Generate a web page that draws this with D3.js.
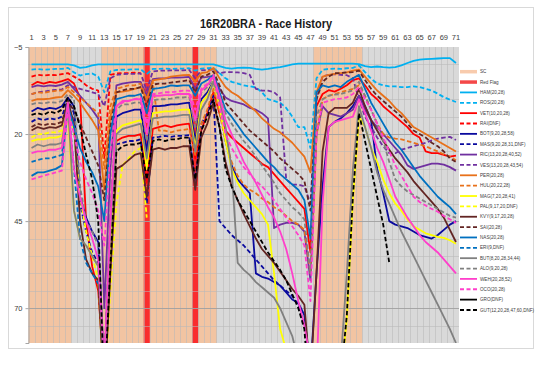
<!DOCTYPE html>
<html>
<head>
<meta charset="utf-8">
<script src="https://cdn.jsdelivr.net/npm/d3@7"></script>
<style>
body { margin: 0; background: #fff; }
text { font-family: "Liberation Sans", Arial, sans-serif; }
</style>
</head>
<body>
<div id="chart"></div>
<script>
// laps are categories 1..71, the y axis is the gap (s), positive downwards
const laps = d3.range(1, 72);
const lapLabels = laps.filter((l) => l % 2 === 1);
const yTicks = [-5, 20, 45, 70];

// safety car and red flag laps (drawn as full height columns)
const scLaps = [1, 2, 3, 4, 5, 6, 7, 13, 14, 15, 16, 17, 18, 19, 20, 21, 22, 23, 24, 25,
    26, 27, 28, 29, 30, 31, 48, 49, 50, 51, 52, 53, 54, 55];
const redFlagLaps = [20, 28];

const HAM = [0, 0, 0, 0, 0, 0, 0, 0.3, 1, 0.8,
    0.3, 0, 0, 0, 0, 0, 0, 0, 0, 0,
    0, 0, 0, 0, 0, 0, 0, 0, 0, 0,
    0, 0.5, 1, 1.2, 1, 0.9, 1, 1.3, 1.5, 1.3,
    1, 0.8, 0.4, 0, -0.2, -0.2, -0.2, -0.2, -0.2, -0.2,
    -0.2, -0.2, -0.2, -0.2, -0.1, 0.5, 0.8, 0.6, 0.8, 0.9,
    0.8, 0.3, -0.4, -1, -1.4, -1.5, -1.6, -1.7, -1.8, -1.8,
    -0.4];
const ROS = [1.5, 1.3, 1.5, 1.4, 1.3, 1.3, 1.0, 2.3, 3.2, 2.8,
    2.6, 3.5, 8, 2, 1.6, 1.5, 1.5, 1.4, 1.4, 2.8,
    1.3, 1.3, 1.2, 1.3, 1.2, 1.2, 1.1, 1.8, 1.2, 1.1,
    1, 2.5, 4, 5, 5.5, 6, 6.3, 6.6, 8, 10,
    10.5, 11, 12.5, 15, 18, 18, 24, 4, 1.5, 1.3,
    1.2, 1.3, 1.1, 1, 0.3, 2.2, 4.1, 5.5, 6, 6.3,
    6.3, 6.5, 6.5, 6.3, 6.5, 7, 7.5, 8.4, 9.4, 10.1,
    10.8];
const VET = [6, 5, 5.5, 5, 5.3, 4.8, 4.2, 5.5, 9.5, 45,
    58, 65, 90, 50, 22, 21, 20.5, 20.5, 20, 34,
    18.5, 18, 17.5, 18, 17.5, 17.2, 17, 27, 19, 14,
    8, 14, 19, 21, 22.5, 24, 25.5, 27, 28.5, 29.5,
    31.5, 33.5, 35.5, 37.5, 39.5, 41.5, 54, 12, 8.5, 7.4,
    7.8, 7, 6, 4.5, 4, 6, 8.5, 10, 12, 13.5,
    15, 16.5, 18, 20, 21, 25, 25.5, 25.5, 26, 26.5,
    26.2];
const RAI = [3.5, 3, 3.2, 3, 3.1, 2.8, 2.5, 3.5, 4.5, 6,
    7, 7.5, 27, 3, 2.6, 2.5, 2.5, 2.4, 2.5];
const BOT = [13.5, 12.5, 13, 12.5, 12.8, 12, 9.5, 12, 38, 44,
    48, 51, 88, 45, 15, 14, 13.5, 13, 13, 25,
    12, 12, 11.8, 11.5, 11.5, 11.2, 11, 22, 10, 8,
    5, 12, 22, 29, 33, 35, 37, 60, 61, 61.5,
    62.5, 63.5, 65.5, 67.5, 68.5, 72, 88, 60, 35, 18,
    16.5, 15.5, 14, 12, 9, 12, 16, 30, 37, 45,
    46, 46.5, 47, 48, 49, 49.5, 50, 49, 47.5, 46,
    45];
const MAS = [16.5, 15.5, 16, 15.5, 15.8, 15, 10, 14, 40, 48,
    54, 57, 92, 55, 23, 22.5, 22, 22, 21.5, 40,
    21, 20.8, 20.5, 20.8, 20.5, 20.5, 20.3, 35, 17, 14,
    9, 45, 47, 49, 50.5, 52, 54, 56, 58, 60,
    62, 63.5, 65, 66.5, 69, 75];
const RIC = [6.5, 6, 6.3, 6, 6.2, 5.8, 5, 7, 9, 11,
    13, 15.5, 70, 30, 6, 5.5, 5.2, 5, 5, 9,
    4.2, 4, 4, 3.8, 3.8, 3.7, 3.6, 7, 3.8, 3.6,
    3.3, 7, 9.5, 10.5, 11, 11.5, 12.5, 13, 14, 15.5,
    47, 46, 45.5, 45.5, 46, 48, 62, 20, 12, 14,
    14.5, 15, 14, 13, 9, 13, 16, 18, 20, 22,
    24, 26, 29, 30, 29.5, 29, 28.5, 28.5, 28.8, 29.5,
    30.5];
const VES = [8.5, 8, 7.8, 7.5, 7.3, 7.2, 6, 6.5, 7, 7.5,
    8, 8.5, 12, 4, 3, 2.8, 2.7, 2.7, 2.6, 7.5,
    2, 1.8, 1.8, 1.7, 1.7, 1.7, 1.6, 4, 1.7, 1.6,
    1.5, 2.5, 2.2, 2.2, 2.3, 2.5, 3, 7, 7.5, 7.5,
    8, 9.5, 33, 34.5, 34.5, 35, 40, 10, 3.5, 3,
    2.8, 3, 3.1, 4, 10, 15, 18, 21, 23.5, 25.5,
    25.5, 24.5, 24, 23.5, 23, 22.5, 21.8, 21.3, 21, 20.8,
    21.7];
const PER = [10.5, 10, 10, 9.8, 9.5, 9.3, 7.4, 9, 11, 13.5,
    16, 19, 36, 15, 8, 7.8, 7.5, 7, 6.5, 10,
    4.6, 4.3, 4, 3.5, 3.3, 3.1, 3, 5, 2.5, 2.2,
    1, 4, 6.5, 8, 9, 10.5, 12, 13.5, 15.5, 17,
    18.5, 19.5, 21, 22.5, 24.5, 26.5, 31, 8, 3.5, 3,
    2.7, 2.5, 2.3, 1.8, 1.5, 3.5, 5.5, 7.5, 9, 10.5,
    12.5, 14, 16, 18, 19, 20, 21, 22, 23, 24,
    25];
const HUL = [8.5, 8, 8.2, 7.8, 7.6, 7.5, 6.5, 8, 9.5, 11,
    12.5, 14, 30, 12, 7, 6.5, 6, 6, 5.5, 10,
    5, 19, 19, 19.5, 19, 18.8, 18.5, 26, 17, 13,
    7, 14, 22, 28, 32, 34.5, 36, 37, 38.5, 39.5,
    41, 42, 43.5, 45, 46, 47.5, 60, 20, 10, 9,
    8.5, 8, 7.5, 7, 6, 9, 13, 17, 20, 21,
    21.3, 21.5, 22, 22.5, 23, 23.5, 24.3, 25, 25.8, 26.5,
    27.5];
const MAG = [22, 21.5, 21.5, 21, 21, 20.5, 14, 42, 50, 52,
    55, 58, 92, 52, 19, 17.5, 17, 16.5, 16, 30,
    14, 13.8, 13.5, 13.5, 13.2, 13, 13, 24, 11, 9,
    5, 12, 22, 30, 34, 37, 39, 41, 43, 46,
    60, 76, 82, 86, 90, 95, 100, 110, 105, 100,
    96, 91, 73, 39, 15, 18, 24, 28, 33, 37,
    40, 42, 44.5, 46.5, 47.5, 48.5, 49, 49.5, 49.8, 50.5,
    51.5];
const PAL = [21, 20, 20, 19.5, 19.5, 19, 13, 19, 38, 48,
    55, 62, 95, 65, 40, 29, 27, 25, 24, 44];
const KVY = [19, 18, 18.5, 18, 18.2, 17.5, 10.5, 17, 45, 56,
    60, 62, 95, 60, 30, 29, 27.5, 26, 25.5, 38,
    24.5, 24, 24.5, 24, 24, 23.5, 23.5, 36, 21, 17,
    11, 18, 28, 35, 39, 43, 46.5, 50, 53, 55,
    57, 59.5, 62, 64.5, 66.5, 69, 90, 60, 25, 14,
    12.5, 12.5, 12.5, 11, 7, 12, 16, 19, 22, 24.5,
    27, 29, 31, 33.5, 35.5, 37.5, 39.5, 41.5, 44, 47.5,
    51];
const SAI = [18, 17, 17.5, 17, 17.2, 16.5, 11, 13, 17, 21,
    25, 29, 39, 18, 8, 7.5, 7, 7, 6.5, 12,
    5.8, 5.5, 5.5, 5.2, 5, 4.8, 4.5, 8, 3.5, 3,
    2, 6, 11, 13, 15, 17, 19, 20.5, 22, 23.5,
    25, 27, 28.5, 30, 31.5, 33.5, 42, 10, 5, 3.5,
    2.5, 2.5, 2.3, 2.2, 1.8, 4.5, 7, 9, 10.5, 12,
    13.5, 15, 17, 19, 20, 21, 22.5, 23.5, 25, 27,
    28];
const NAS = [32, 31, 31, 30.5, 30, 29, 12, 18, 24, 28,
    31, 35, 45, 20, 10, 9.5, 9, 9, 8.5, 14,
    7, 6.8, 6.5, 6, 6.2, 6, 6, 9, 5.5, 4.5,
    3, 8, 13, 15, 17.5, 20, 22, 24, 26, 28,
    29.5, 31.5, 33, 34.5, 36, 39, 50, 8, 6, 6.5,
    6, 6.5, 5, 4, 3, 7, 11, 14, 17, 20,
    22.5, 24.5, 27, 29.5, 32, 34, 36, 38, 39.5, 41,
    43];
const ERI = [28, 27.5, 27, 27, 26.5, 26, 11, 30, 50, 57,
    60, 63];
const BUT = [24, 23, 23.5, 23, 23, 22.5, 11, 42, 50, 52,
    55, 58, 90, 48, 20, 18.5, 18, 17.5, 17, 27,
    15.5, 15.3, 15, 15, 14.8, 14.5, 14.5, 25, 13, 10,
    5, 10, 18, 30, 57, 59, 60.5, 62.5, 64, 65.5,
    67, 70, 74, 78, 85, 90, 100, 100, 98, 95,
    90, 85, 60, 30, 12, 18, 24, 31, 36, 40,
    44, 48, 51.5, 55, 58.5, 62, 65.5, 69, 72.5, 76,
    80];
const ALO = [11.5, 11, 11.2, 10.8, 11, 10.5, 8.5, 10, 35, 45,
    48, 52, 86, 42, 13, 11.5, 11.5, 11, 11, 22,
    10.3, 10, 10, 9.8, 9.5, 9.5, 9.3, 18, 8, 6.5,
    4, 9, 14, 17, 19.5, 22, 24, 26.5, 29, 31.5,
    34, 37, 39, 41, 42.5, 44.5, 60, 15, 10, 9,
    8.7, 8.5, 8, 7.5, 5, 9, 13, 17, 22, 28,
    33, 35, 36.5, 37.5, 38.5, 39.5, 40.5, 41.5, 42.5, 43.5,
    44];
const WEH = [25.5, 25, 25, 24.5, 24.5, 24, 11, 30, 38, 45,
    50, 56, 86, 45, 12, 10.5, 10.5, 10, 10, 20,
    9, 9, 8.8, 8.8, 8.5, 8.5, 8.5, 16, 7.5, 6,
    3.5, 9, 16, 20, 24, 28, 31, 34, 37.5, 41,
    44, 48, 53, 60, 68, 75, 85, 90, 40, 18,
    16.5, 16, 15.5, 15, 10, 14, 19, 24, 28, 33,
    38, 41, 44, 46.5, 49, 51, 52.5, 54, 56, 58,
    60];
const OCO = [33, 32.5, 32, 31.5, 31, 30.5, 13, 20, 28, 33,
    37, 42, 52, 25, 12, 11, 10.5, 10, 9.5, 17,
    8.5, 8.3, 8, 8, 7.8, 7.5, 7.5, 13, 7, 5.5,
    3, 12, 20, 24, 27, 29.5, 31.5, 33.5, 35, 37,
    39, 41.5, 44, 46.5, 49, 52, 68, 20, 11, 10.5,
    10, 9.8, 9.5, 8.5, 6.5, 10, 13, 17, 21, 25,
    29, 32, 35, 38, 39.5, 40.5, 41.5, 42.3, 43.5, 44.5,
    45.5];
const GRO = []; // did not start
const GUT = [14.5, 14, 14.5, 13.5, 14, 13, 9.5, 12, 18, 26,
    33, 45, 94, 58, 25, 23.5, 23, 23, 22.5, 33,
    22, 21.5, 22, 21.5, 21.5, 21, 21, 33, 19, 15,
    10, 18, 30, 35, 39, 42, 45, 48, 51, 54,
    56.5, 59, 62, 66, 70, 76, 100, 110, 108, 104,
    100, 90, 72, 38, 14, 22, 30, 38, 46, 57];

const drivers = [
    {label: 'HAM(20,28)', values: HAM, color: '#00B0F0', dashed: false},
    {label: 'ROS(20,28)', values: ROS, color: '#00B0F0', dashed: true},
    {label: 'VET(10,20,28)', values: VET, color: '#FF0000', dashed: false},
    {label: 'RAI(DNF)', values: RAI, color: '#FF0000', dashed: true},
    {label: 'BOT(9,20,28,58)', values: BOT, color: '#0A0A9E', dashed: false},
    {label: 'MAS(9,20,28,31,DNF)', values: MAS, color: '#0A0A9E', dashed: true},
    {label: 'RIC(13,20,28,40,52)', values: RIC, color: '#7030A0', dashed: false},
    {label: 'VES(13,20,28,43,54)', values: VES, color: '#7030A0', dashed: true},
    {label: 'PER(20,28)', values: PER, color: '#E8711A', dashed: false},
    {label: 'HUL(20,22,28)', values: HUL, color: '#E8711A', dashed: true},
    {label: 'MAG(7,20,28,41)', values: MAG, color: '#FFFF00', dashed: false},
    {label: 'PAL(9,17,20,DNF)', values: PAL, color: '#FFFF00', dashed: true},
    {label: 'KVY(9,17,20,28)', values: KVY, color: '#632523', dashed: false},
    {label: 'SAI(20,28)', values: SAI, color: '#632523', dashed: true},
    {label: 'NAS(20,28)', values: NAS, color: '#0070C0', dashed: false},
    {label: 'ERI(9,DNF)', values: ERI, color: '#0070C0', dashed: true},
    {label: 'BUT(8,20,28,34,44)', values: BUT, color: '#808080', dashed: false},
    {label: 'ALO(9,20,28)', values: ALO, color: '#808080', dashed: true},
    {label: 'WEH(20,28,52)', values: WEH, color: '#FF3FCB', dashed: false},
    {label: 'OCO(20,28)', values: OCO, color: '#FF3FCB', dashed: true},
    {label: 'GRO(DNF)', values: GRO, color: '#000000', dashed: false},
    {label: 'GUT(12,20,28,47,60,DNF)', values: GUT, color: '#000000', dashed: true},
];

const W = 550, H = 372;
const plot = {left: 28.5, right: 459, top: 47, bottom: 343};
const dash = '4.5,2.5';

const svg = d3.select('#chart')
    .append('svg')
    .attr('width', W)
    .attr('height', H);

// chart area frame
svg.append('rect')
    .attr('x', 8.5).attr('y', 7.5)
    .attr('width', 525).attr('height', 341)
    .attr('fill', '#fff')
    .attr('stroke', '#D9D9D9');

svg.append('text')
    .attr('x', 266).attr('y', 28)
    .attr('text-anchor', 'middle')
    .attr('font-size', 12.5)
    .attr('font-weight', 'bold')
    .attr('fill', '#1a1a1a')
    .attr('textLength', 132)
    .attr('lengthAdjust', 'spacingAndGlyphs')
    .text('16R20BRA - Race History');

const x = d3.scaleBand()
    .domain(laps)
    .range([plot.left, plot.right])
    .padding(0);
const bw = x.bandwidth();

const y = d3.scaleLinear()
    .domain([-5, 80])
    .range([plot.top, plot.bottom]);

svg.append('defs').append('clipPath')
    .attr('id', 'plot-clip')
    .append('rect')
    .attr('x', plot.left).attr('y', plot.top)
    .attr('width', plot.right - plot.left)
    .attr('height', plot.bottom - plot.top);

svg.append('rect')
    .attr('x', plot.left).attr('y', plot.top)
    .attr('width', plot.right - plot.left)
    .attr('height', plot.bottom - plot.top)
    .attr('fill', '#D9D9D9');

// SC and red flag columns
svg.append('g')
    .selectAll('rect')
    .data(scLaps)
    .join('rect')
        .attr('x', (d) => x(d))
        .attr('y', plot.top)
        .attr('width', bw + 0.3)
        .attr('height', plot.bottom - plot.top)
        .attr('fill', '#F2C4A2');

svg.append('g')
    .selectAll('rect')
    .data(redFlagLaps)
    .join('rect')
        .attr('x', (d) => x(d))
        .attr('y', plot.top)
        .attr('width', bw)
        .attr('height', plot.bottom - plot.top)
        .attr('fill', '#F92D2D');

// grid: one vertical line per lap, minor every 5, major every 25
const grid = svg.append('g');
grid.selectAll('.vgrid')
    .data(laps.slice(1))
    .join('line')
        .attr('x1', (d) => Math.round(x(d)) + 0.5)
        .attr('x2', (d) => Math.round(x(d)) + 0.5)
        .attr('y1', plot.top)
        .attr('y2', plot.bottom)
        .attr('stroke', '#B8B8B8')
        .attr('stroke-opacity', 0.55);
grid.selectAll('.hgrid')
    .data(d3.range(0, 80, 5))
    .join('line')
        .attr('x1', plot.left)
        .attr('x2', plot.right)
        .attr('y1', (d) => Math.round(y(d)) + 0.5)
        .attr('y2', (d) => Math.round(y(d)) + 0.5)
        .attr('stroke', (d) => yTicks.includes(d) ? '#A0A0A0' : '#B8B8B8')
        .attr('stroke-opacity', (d) => yTicks.includes(d) ? 0.9 : 0.55);

// driver lines
const line = d3.line()
    .defined((d) => d !== null && d !== undefined)
    .x((d, i) => x(laps[i]) + bw / 2)
    .y((d) => y(d));

svg.append('g')
    .attr('clip-path', 'url(#plot-clip)')
    .selectAll('path')
    .data(drivers)
    .join('path')
        .attr('fill', 'none')
        .attr('stroke', (d) => d.color)
        .attr('stroke-width', 1.8)
        .attr('stroke-linejoin', 'round')
        .attr('stroke-dasharray', (d) => d.dashed ? dash : null)
        .attr('d', (d) => line(d.values));

// axes
const top_axis = svg.append('g')
    .attr('transform', `translate(0, ${plot.top})`)
    .call(d3.axisTop(x).tickValues(lapLabels).tickSize(0).tickPadding(7));
top_axis.select('.domain').remove();
top_axis.selectAll('text')
    .attr('font-size', 7.5)
    .attr('fill', '#404040')
    .style('font-family', '"Liberation Sans", Arial, sans-serif');

const left_axis = svg.append('g')
    .attr('transform', `translate(${plot.left}, 0)`)
    .call(d3.axisLeft(y).tickValues(yTicks).tickSize(3).tickPadding(3));
left_axis.select('.domain').attr('stroke', '#A6A6A6');
left_axis.selectAll('line').attr('stroke', '#A6A6A6');
left_axis.selectAll('text')
    .attr('font-size', 7.5)
    .attr('fill', '#404040')
    .style('font-family', '"Liberation Sans", Arial, sans-serif');

// legend
const legendItems = [
    {label: 'SC', color: '#F8CBAD', bar: true},
    {label: 'Red Flag', color: '#F44848', bar: true},
].concat(drivers);

const legend = svg.append('g')
    .selectAll('g')
    .data(legendItems)
    .join('g')
        .attr('transform', (d, i) => `translate(460, ${71.7 + i * 10.36})`);

legend.append('line')
    .attr('x1', 0).attr('x2', 17)
    .attr('stroke', (d) => d.color)
    .attr('stroke-width', (d) => d.bar ? 3.5 : 1.8)
    .attr('stroke-dasharray', (d) => d.dashed ? '4,2.5' : null);

legend.append('text')
    .attr('x', 20)
    .attr('dy', '0.35em')
    .attr('font-size', 4.6)
    .attr('fill', '#404040')
    .text((d) => d.label);
</script>
</body>
</html>
